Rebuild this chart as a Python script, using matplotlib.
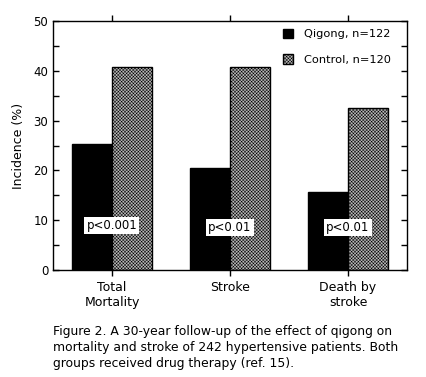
import numpy as np
import matplotlib.pyplot as plt

categories = ["Total\nMortality", "Stroke", "Death by\nstroke"]
qigong = [25.4, 20.4, 15.7]
control = [40.7, 40.7, 32.5]
p_labels = ["p<0.001", "p<0.01", "p<0.01"]
p_heights = [9.0, 8.5, 8.5]

caption = ("Figure 2. A 30-year follow-up of the effect of qigong on\n"
           "mortality and stroke of 242 hypertensive patients. Both\n"
           "groups received drug therapy (ref. 15).")

plt.rcParams["font.family"] = ["DejaVu Sans"]
plt.rcParams["hatch.linewidth"] = 0.35

fig = plt.figure(figsize=(4.27, 3.77), dpi=100)
ax = fig.add_axes([53 / 427, 1 - 270 / 377, 354 / 427, 249 / 377])

x = np.arange(len(categories))
w = 0.34
ax.bar(x - w / 2, qigong, w, color="black", edgecolor="black", linewidth=1,
       label="Qigong, n=122")
ax.bar(x + w / 2, control, w, color="#b8b8b8", edgecolor="black", linewidth=1,
       hatch="xxxxxxxxxx", label="Control, n=120")

for xi, lab, h in zip(x, p_labels, p_heights):
    ax.text(xi, h, lab, ha="center", va="center", fontsize=8.5,
            bbox=dict(facecolor="white", edgecolor="none", pad=1.5))

ax.set_xlim(-0.5, 2.5)
ax.set_ylim(0, 50)
ax.set_yticks(np.arange(0, 51, 10))
ax.set_yticks(np.arange(5, 50, 10), minor=True)
ax.tick_params(axis="y", which="both", direction="in", right=True,
               labelsize=8.5, length=4, width=1)
ax.set_xticks(x)
ax.set_xticklabels(categories, fontsize=9)
ax.tick_params(axis="x", direction="out", top=True, length=4, width=1, pad=4)
for sp in ax.spines.values():
    sp.set_linewidth(1)
ax.set_ylabel("Incidence (%)", fontsize=9, labelpad=6)

ax.legend(loc="upper right", frameon=False, fontsize=8.2, handlelength=0.9,
          handleheight=0.9, handletextpad=1.0, labelspacing=1.3,
          bbox_to_anchor=(0.985, 1.01))

fig.text(53 / 427, 1 - 325 / 377, caption, ha="left", va="top", fontsize=8.9,
         linespacing=1.3)

fig.savefig("out.png", dpi=100)
